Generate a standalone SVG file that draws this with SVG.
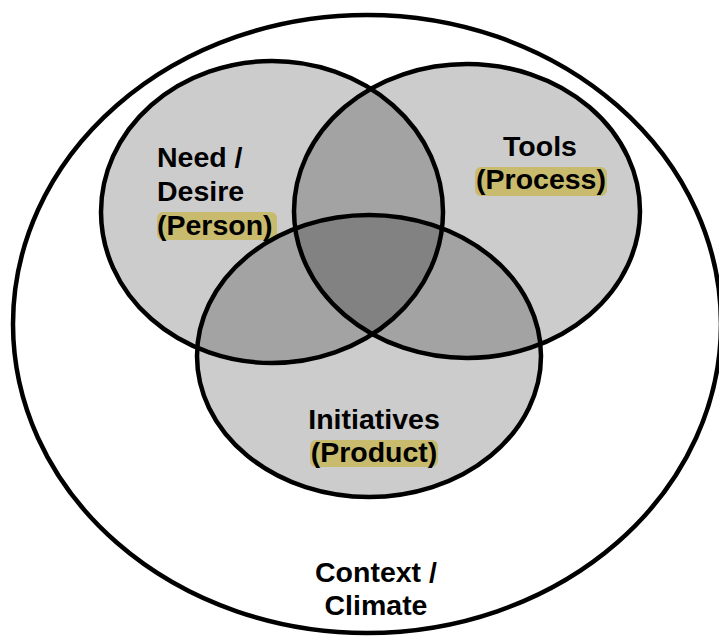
<svg xmlns="http://www.w3.org/2000/svg" width="719" height="637" viewBox="0 0 719 637">
<style>
.fill{fill:#000;fill-opacity:0.2;stroke:none}
.ring{fill:none;stroke:#000;stroke-width:4.5}
.lbl{font-family:"Liberation Sans",Arial,sans-serif;font-weight:bold;font-size:28.5px;fill:#000}
.hl{fill:#c8bb6e}
</style>
<rect width="719" height="637" fill="#fff"/>
<g id="context">
<ellipse class="ring" cx="367" cy="324" rx="354" ry="309"/>
<text class="lbl" x="376" y="582" text-anchor="middle">Context /</text>
<text class="lbl" x="376" y="615" text-anchor="middle">Climate</text>
</g>
<g id="fills">
<ellipse class="fill" cx="272" cy="212" rx="171" ry="151"/>
<ellipse class="fill" cx="467" cy="211" rx="173" ry="147"/>
<ellipse class="fill" cx="369" cy="356" rx="172" ry="141"/>
</g>
<g id="need">
<ellipse class="ring" cx="272" cy="212" rx="171" ry="151"/>
<rect class="hl" x="157" y="212" width="120" height="28" rx="6"/>
<text class="lbl" x="157" y="167">Need /</text>
<text class="lbl" x="157" y="201">Desire</text>
<text class="lbl" x="157" y="235">(Person)</text>
</g>
<g id="tools">
<ellipse class="ring" cx="467" cy="211" rx="173" ry="147"/>
<rect class="hl" x="475" y="167" width="132" height="29" rx="6"/>
<text class="lbl" x="540" y="156" text-anchor="middle">Tools</text>
<text class="lbl" x="541" y="189" text-anchor="middle">(Process)</text>
</g>
<g id="initiatives">
<ellipse class="ring" cx="369" cy="356" rx="172" ry="141"/>
<rect class="hl" x="310" y="440" width="128" height="27" rx="6"/>
<text class="lbl" x="374" y="429" text-anchor="middle">Initiatives</text>
<text class="lbl" x="374" y="462" text-anchor="middle">(Product)</text>
</g>
</svg>
